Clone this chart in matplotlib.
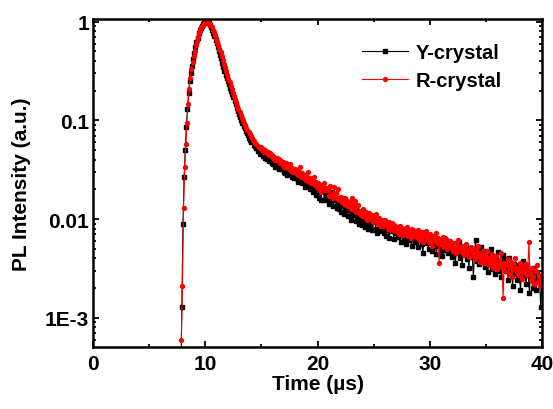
import numpy as np
import matplotlib
matplotlib.use("Agg")
import matplotlib.pyplot as plt
from matplotlib.ticker import FixedLocator, FixedFormatter, LogLocator, NullFormatter, MultipleLocator

plt.rcParams["font.family"] = ["Liberation Sans", "DejaVu Sans"]
plt.rcParams["font.weight"] = "bold"

# sample grid (µs): first sample time and step
t0_y, t0_r, dt = 7.80, 7.85, 0.1

# Y-crystal PL decay (normalised)
y_crystal = [
    0.0002, 0.0013, 0.009, 0.027, 0.050, 0.085, 0.130, 0.190, 0.250, 0.305,
    0.360, 0.415, 0.480, 0.550, 0.620, 0.690, 0.760, 0.820, 0.870, 0.910,
    0.945, 0.970, 0.990, 1.000, 0.990, 0.970, 0.930, 0.885, 0.830, 0.760,
    0.710, 0.660, 0.610, 0.560, 0.510, 0.465, 0.425, 0.385, 0.350, 0.320,
    0.290, 0.268, 0.250, 0.232, 0.215, 0.199, 0.185, 0.171, 0.158, 0.146,
    0.135, 0.125, 0.116, 0.108, 0.100, 0.094, 0.088, 0.083, 0.078, 0.074,
    0.071, 0.067, 0.064, 0.061, 0.060, 0.056, 0.055, 0.052, 0.053, 0.049,
    0.049, 0.046, 0.047, 0.044, 0.045, 0.042, 0.043, 0.041, 0.042, 0.039,
    0.040, 0.037, 0.036, 0.038, 0.034, 0.037, 0.034, 0.036, 0.032, 0.035,
    0.032, 0.034, 0.030, 0.029, 0.032, 0.028, 0.033, 0.029, 0.031, 0.027,
    0.030, 0.026, 0.029, 0.026, 0.028, 0.024, 0.027, 0.029, 0.023, 0.026,
    0.025, 0.021, 0.024, 0.026, 0.022, 0.020, 0.024, 0.022, 0.019, 0.023,
    0.021, 0.0175, 0.0215, 0.0165, 0.020, 0.0158, 0.0195, 0.021, 0.0155, 0.019,
    0.0160, 0.018, 0.0142, 0.0175, 0.0155, 0.019, 0.0135, 0.017, 0.0158, 0.0130,
    0.0155, 0.0128, 0.0148, 0.0118, 0.0152, 0.0135, 0.0112, 0.0145, 0.0124, 0.0108,
    0.0135, 0.0125, 0.0098, 0.0128, 0.0110, 0.0132, 0.0096, 0.0122, 0.0106, 0.0090,
    0.0115, 0.0098, 0.0088, 0.0112, 0.0084, 0.0106, 0.0094, 0.0079, 0.0104, 0.0088,
    0.0097, 0.0077, 0.0094, 0.0101, 0.0080, 0.0072, 0.0093, 0.0088, 0.0076, 0.0095,
    0.0084, 0.0072, 0.0089, 0.0068, 0.0083, 0.0078, 0.0064, 0.0085, 0.0075, 0.0080,
    0.0063, 0.0079, 0.0073, 0.0084, 0.0066, 0.0075, 0.0059, 0.0078, 0.0071, 0.0062,
    0.0074, 0.0056, 0.0070, 0.0077, 0.0061, 0.0071, 0.0053, 0.0068, 0.0075, 0.0059,
    0.0066, 0.0072, 0.0052, 0.0064, 0.0070, 0.0056, 0.0045, 0.0067, 0.0060, 0.0069,
    0.0057, 0.0050, 0.0064, 0.0059, 0.0047, 0.0066, 0.0053, 0.0061, 0.0044, 0.0058,
    0.0053, 0.0062, 0.0048, 0.0042, 0.0057, 0.0065, 0.0049, 0.0055, 0.0045, 0.0060,
    0.0049, 0.0053, 0.0041, 0.0056, 0.0046, 0.0036, 0.0052, 0.0045, 0.0058, 0.0040,
    0.0047, 0.0034, 0.0050, 0.0044, 0.0054, 0.0039, 0.0046, 0.0032, 0.0049, 0.0043,
    0.0041, 0.0026, 0.0045, 0.0061, 0.0038, 0.0049, 0.0035, 0.0044, 0.0052, 0.0037,
    0.0042, 0.0033, 0.0047, 0.0038, 0.0029, 0.0044, 0.0036, 0.0050, 0.0031, 0.0039,
    0.0028, 0.0041, 0.0035, 0.0046, 0.0030, 0.0037, 0.0026, 0.0043, 0.0034, 0.0039,
    0.0030, 0.0036, 0.0024, 0.0040, 0.0029, 0.0033, 0.0021, 0.0035, 0.0028, 0.0031,
    0.0024, 0.0034, 0.0027, 0.0019, 0.0031, 0.0038, 0.0026, 0.0029, 0.0022, 0.0033,
    0.0027, 0.0018, 0.0030, 0.0024, 0.0020, 0.0032, 0.0025, 0.0019, 0.0028, 0.0023,
    0.0026, 0.0013, 0.0022,
]

# R-crystal PL decay (normalised)
r_crystal = [
    0.0006, 0.0021, 0.013, 0.034, 0.058, 0.095, 0.148, 0.210, 0.270, 0.330,
    0.390, 0.450, 0.510, 0.575, 0.640, 0.705, 0.770, 0.830, 0.880, 0.920,
    0.955, 0.980, 0.995, 1.000, 0.985, 0.960, 0.925, 0.880, 0.830, 0.780,
    0.730, 0.680, 0.630, 0.580, 0.535, 0.490, 0.450, 0.410, 0.375, 0.345,
    0.315, 0.288, 0.265, 0.244, 0.225, 0.207, 0.191, 0.177, 0.164, 0.152,
    0.141, 0.131, 0.122, 0.114, 0.107, 0.100, 0.094, 0.089, 0.084, 0.080,
    0.076, 0.073, 0.069, 0.067, 0.063, 0.062, 0.059, 0.058, 0.055, 0.054,
    0.052, 0.054, 0.050, 0.051, 0.048, 0.050, 0.047, 0.048, 0.045, 0.047,
    0.044, 0.045, 0.042, 0.043, 0.040, 0.042, 0.039, 0.041, 0.037, 0.039,
    0.036, 0.038, 0.034, 0.037, 0.033, 0.035, 0.032, 0.036, 0.031, 0.033,
    0.030, 0.032, 0.029, 0.031, 0.028, 0.030, 0.034, 0.027, 0.029, 0.026,
    0.028, 0.025, 0.027, 0.030, 0.024, 0.026, 0.023, 0.025, 0.027, 0.022,
    0.024, 0.021, 0.023, 0.020, 0.022, 0.019, 0.021, 0.023, 0.0195, 0.0205,
    0.0195, 0.020, 0.017, 0.0215, 0.0178, 0.0165, 0.021, 0.0172, 0.0185, 0.0162,
    0.020, 0.0155, 0.0168, 0.0148, 0.016, 0.0142, 0.0165, 0.0138, 0.0152, 0.0135,
    0.0150, 0.0128, 0.0165, 0.0138, 0.0125, 0.0152, 0.0118, 0.0135, 0.0140, 0.0113,
    0.0122, 0.0108, 0.0128, 0.0112, 0.0104, 0.0119, 0.0097, 0.0115, 0.0106, 0.0101,
    0.0110, 0.0094, 0.0105, 0.0098, 0.0112, 0.0089, 0.0102, 0.0095, 0.0086, 0.0099,
    0.0093, 0.0085, 0.0097, 0.0088, 0.0080, 0.0094, 0.0086, 0.0078, 0.0091, 0.0083,
    0.0088, 0.0076, 0.0084, 0.0079, 0.0071, 0.0086, 0.0077, 0.0082, 0.0069, 0.0080,
    0.0074, 0.0083, 0.0068, 0.0077, 0.0072, 0.0064, 0.0079, 0.0070, 0.0075, 0.0066,
    0.0073, 0.0078, 0.0062, 0.0070, 0.0066, 0.0074, 0.0059, 0.0069, 0.0075, 0.0063,
    0.0068, 0.0058, 0.0071, 0.0062, 0.0054, 0.0067, 0.0060, 0.0072, 0.0057, 0.0064,
    0.0036, 0.0061, 0.0056, 0.0066, 0.0052, 0.0059, 0.0063, 0.0050, 0.0058, 0.0054,
    0.0060, 0.0051, 0.0047, 0.0057, 0.0053, 0.0045, 0.0055, 0.0061, 0.0049, 0.0052,
    0.0046, 0.0054, 0.0043, 0.0050, 0.0056, 0.0044, 0.0049, 0.0041, 0.0052, 0.0047,
    0.0043, 0.0050, 0.0039, 0.0046, 0.0042, 0.0053, 0.0037, 0.0045, 0.0040, 0.0048,
    0.0036, 0.0043, 0.0039, 0.0047, 0.0034, 0.0041, 0.0037, 0.0044, 0.0032, 0.0040,
    0.0035, 0.0042, 0.0031, 0.0038, 0.0034, 0.0045, 0.0033, 0.0016, 0.0036, 0.0030,
    0.0034, 0.0039, 0.0028, 0.0033, 0.0037, 0.0026, 0.0035, 0.0031, 0.0040, 0.0029,
    0.0032, 0.0027, 0.0036, 0.0030, 0.0025, 0.0033, 0.0029, 0.0035, 0.0027, 0.0031,
    0.0059, 0.0028, 0.0024, 0.0032, 0.0026, 0.0022, 0.0030, 0.0034, 0.0023, 0.0027,
    0.0021, 0.0025,
]

y_ticks = [1e-3, 1e-2, 1e-1, 1]
y_tick_labels = ["1E-3", "0.01", "0.1", "1"]

t_y = t0_y + dt * np.arange(len(y_crystal))
t_r = t0_r + dt * np.arange(len(r_crystal))

fig = plt.figure(figsize=(5.53, 4.10), dpi=100)
ax = fig.add_axes([0.1687, 0.152, 0.811, 0.7992])

ax.plot(t_y, y_crystal, color="black", lw=0.8, marker="s", ms=2.5, label="Y-crystal")
ax.plot(t_r, r_crystal, color="red", lw=0.8, marker="o", ms=2.8, label="R-crystal")

ax.set_yscale("log")
ax.set_xlim(0, 40)
ax.set_ylim(5.1e-4, 1.065)

ax.xaxis.set_major_locator(MultipleLocator(10))
ax.xaxis.set_minor_locator(MultipleLocator(5))
ax.yaxis.set_major_locator(FixedLocator(y_ticks))
ax.yaxis.set_major_formatter(FixedFormatter(y_tick_labels))
ax.yaxis.set_minor_locator(LogLocator(base=10, subs=np.arange(2, 10)))
ax.yaxis.set_minor_formatter(NullFormatter())

ax.tick_params(which="both", direction="in", top=True, right=True, width=1.3, labelsize=15)
ax.tick_params(which="major", length=4.5)
ax.tick_params(axis="y", which="major", pad=3)
ax.tick_params(axis="x", which="major", pad=5)
ax.tick_params(which="minor", length=2.5)
for lbl in ax.get_xticklabels() + ax.get_yticklabels():
    lbl.set_fontweight("bold")
for sp in ax.spines.values():
    sp.set_linewidth(1.8)

ax.set_xlabel("Time (µs)", fontsize=15, fontweight="bold", labelpad=1)
ax.set_ylabel("PL Intensity (a.u.)", fontsize=15, fontweight="bold", labelpad=10)

leg = ax.legend(loc="center left", bbox_to_anchor=(0.599, 0.855), frameon=False,
                borderpad=0, borderaxespad=0, handlelength=2.3, handletextpad=0.35,
                labelspacing=0.42, prop={"size": 14.5, "weight": "bold"})

fig.savefig("out.png", dpi=100)
